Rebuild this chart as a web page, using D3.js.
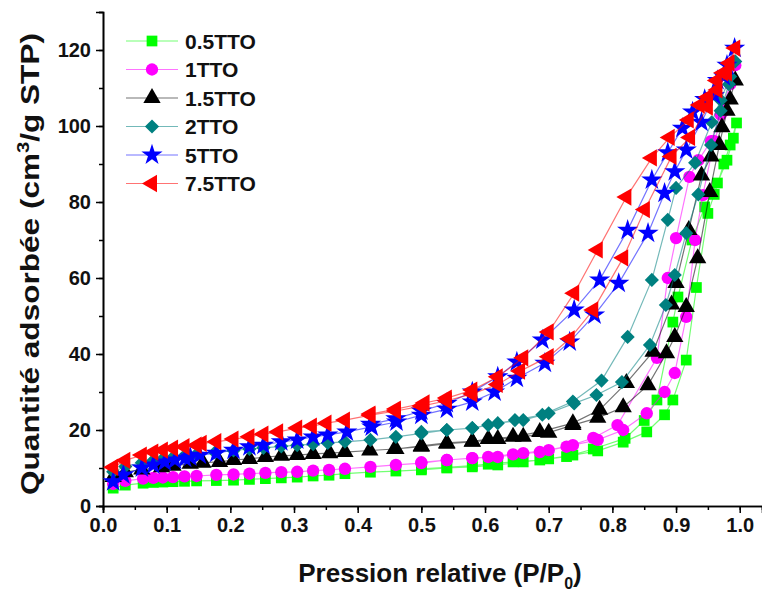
<!DOCTYPE html>
<html><head><meta charset="utf-8">
<script src="https://cdn.jsdelivr.net/npm/d3@7"></script>
<style>body{margin:0;background:#fff;} text{font-family:"Liberation Sans",Arial,sans-serif;font-weight:bold;}</style>
</head><body>
<svg id="c" width="762" height="592"></svg>
<script>
const seriesNames = ["0.5TTO","1TTO","1.5TTO","2TTO","5TTO","7.5TTO"];
const seriesColors = ["#00ff00","#ff00ff","#000000","#008080","#0000ff","#ff0000"];
const seriesSymbols = ["square","circle","triangle","diamond","star","triangleLeft"];
const xTicks = [0.0,0.1,0.2,0.3,0.4,0.5,0.6,0.7,0.8,0.9,1.0];
const yTicks = [0,20,40,60,80,100,120];

// 0.5TTO : [P/P0, V]
const tto05 = [[0.016,4.7],[0.035,5.5],[0.063,6.0],[0.079,6.2],[0.094,6.3],[0.11,6.4],[0.128,6.5],[0.147,6.6],[0.178,6.7],[0.205,6.8],[0.23,7.0],[0.255,7.2],[0.28,7.4],[0.305,7.6],[0.33,7.9],[0.355,8.1],[0.38,8.5],[0.42,8.9],[0.46,9.2],[0.50,9.5],[0.54,10],[0.58,10.3],[0.62,10.8],[0.66,11.6],[0.70,12.4],[0.738,13.4],[0.777,14.5],[0.817,16.8],[0.854,19.5],[0.882,24],[0.895,27.9],[0.916,38.4],[0.932,57.5],[0.95,77],[0.96,82],[0.975,90],[0.985,95],[0.995,100.8],
  [0.99,96.8],[0.98,91],[0.965,85],[0.945,78.7],[0.925,70],[0.903,55],[0.895,48.4],[0.87,27.9],[0.85,22.5],[0.82,17.8],[0.77,15],[0.728,13],[0.686,12.1],[0.644,11.6],[0.605,11],[0.58,10.6],[0.54,10.2],[0.50,9.8]];
// 1TTO
const tto1 = [[0.016,5.8],[0.035,6.6],[0.063,7.2],[0.079,7.4],[0.094,7.5],[0.11,7.6],[0.128,7.8],[0.147,7.9],[0.178,8.2],[0.205,8.3],[0.23,8.5],[0.255,8.7],[0.28,8.9],[0.305,9.0],[0.33,9.3],[0.355,9.5],[0.38,9.8],[0.42,10.3],[0.46,10.8],[0.50,11.3],[0.54,12.1],[0.58,12.6],[0.62,12.9],[0.66,13.9],[0.70,14.7],[0.738,16],[0.777,17.4],[0.817,20],[0.854,24.4],[0.882,30],[0.898,35],[0.916,49.8],[0.93,70],[0.942,81.8],[0.96,96],[0.975,104],[0.993,116],
  [0.985,111],[0.97,103],[0.955,96],[0.935,91],[0.921,86.6],[0.90,70.5],[0.887,60],[0.87,39],[0.808,21.3],[0.77,17.9],[0.728,15.6],[0.686,14.2],[0.644,13.6],[0.605,12.9],[0.58,12.6],[0.54,12.1],[0.50,11.5]];
// 1.5TTO
const tto15 = [[0.016,7.6],[0.035,8.9],[0.061,9.6],[0.092,10.2],[0.11,10.6],[0.137,11.1],[0.157,11.4],[0.183,11.6],[0.205,12.1],[0.23,12.4],[0.255,12.9],[0.28,13.2],[0.305,13.4],[0.33,13.7],[0.356,13.9],[0.38,14.2],[0.419,14.6],[0.458,15.0],[0.50,15.6],[0.54,16.4],[0.58,16.9],[0.62,17.6],[0.66,18.2],[0.70,19.3],[0.738,21.3],[0.777,23.2],[0.817,26],[0.856,31.8],[0.885,40.2],[0.898,44.5],[0.916,52.4],[0.934,65.2],[0.953,82.6],[0.968,95],[0.98,104],[0.993,112],
  [0.985,107],[0.972,99.7],[0.955,92],[0.94,87],[0.92,72.6],[0.90,58.7],[0.893,53],[0.864,40.6],[0.822,32.4],[0.78,25.3],[0.738,21.8],[0.686,19.5],[0.644,18.2],[0.605,17.6],[0.58,17],[0.54,16.6],[0.50,15.8],[0.46,15]];
// 2TTO
const tto2 = [[0.016,9.0],[0.035,10.4],[0.061,11.4],[0.079,12],[0.094,12.4],[0.11,12.8],[0.128,13.2],[0.147,13.6],[0.176,14.1],[0.205,14.6],[0.23,15],[0.252,15.3],[0.28,15.7],[0.305,16],[0.33,16.3],[0.353,16.6],[0.38,16.9],[0.42,17.4],[0.46,18.2],[0.50,19.1],[0.54,20],[0.58,20.5],[0.62,21.8],[0.66,22.6],[0.70,24.4],[0.74,27],[0.775,29.2],[0.815,32.6],[0.859,42.4],[0.884,52.9],[0.898,60.8],[0.916,71.8],[0.935,82],[0.955,95],[0.97,104],[0.983,111],[0.993,117],
  [0.985,113],[0.97,106.8],[0.956,101],[0.93,90.3],[0.90,83.7],[0.887,75.3],[0.862,59.5],[0.824,44.5],[0.783,33],[0.738,27.5],[0.69,24],[0.647,22.6],[0.605,21.3],[0.58,20.5],[0.54,20],[0.50,19.5]];
// 5TTO
const tto5 = [[0.016,6.4],[0.032,8.2],[0.061,10],[0.079,10.8],[0.097,11.6],[0.113,12.1],[0.129,12.6],[0.137,12.9],[0.152,13.4],[0.178,13.9],[0.205,14.7],[0.23,15.6],[0.252,16],[0.28,16.9],[0.305,17.4],[0.33,18.2],[0.353,18.7],[0.383,19.5],[0.422,20.8],[0.461,22.1],[0.50,23.9],[0.54,25.5],[0.58,27.4],[0.615,30],[0.65,33.6],[0.694,37.6],[0.733,43.2],[0.772,50.3],[0.81,58.6],[0.856,71.8],[0.882,82.3],[0.898,88],[0.916,93.7],[0.94,101],[0.96,108],[0.975,113],[0.992,120.5],
  [0.98,116],[0.965,112],[0.945,107],[0.926,103.7],[0.91,99.4],[0.887,93],[0.862,85.8],[0.824,72.6],[0.78,59.5],[0.74,51.6],[0.69,43.7],[0.65,37.9],[0.62,34],[0.58,30],[0.54,27],[0.50,25],[0.46,23],[0.42,21.5]];
// 7.5TTO
const tto75 = [[0.016,10.2],[0.035,12.0],[0.061,13.4],[0.079,14.2],[0.094,14.7],[0.11,15.2],[0.128,15.6],[0.147,16.0],[0.155,16.5],[0.178,16.9],[0.205,17.6],[0.23,18.2],[0.252,18.9],[0.275,19.5],[0.305,20.5],[0.328,21.0],[0.351,21.8],[0.38,22.6],[0.42,23.9],[0.46,25.0],[0.50,26.3],[0.54,27.7],[0.58,29.5],[0.62,32.0],[0.655,35.5],[0.70,39.3],[0.733,44],[0.77,51.6],[0.817,65.3],[0.851,78],[0.893,92],[0.922,97],[0.95,105],[0.965,109.5],[0.98,114],[0.993,120.5],
  [0.984,116.6],[0.974,114],[0.964,112],[0.95,107.6],[0.937,105.5],[0.92,101.6],[0.89,97],[0.862,91.6],[0.822,81.3],[0.777,67.4],[0.74,56],[0.70,45.8],[0.66,39],[0.62,34],[0.58,30.5],[0.54,28.4],[0.505,27.1],[0.46,25.5],[0.42,24.2]];

const seriesData = [tto05, tto1, tto15, tto2, tto5, tto75];

const svg = d3.select("#c");
const x = d3.scaleLinear().domain([0, 1.035]).range([103, 762]);
const y = d3.scaleLinear().domain([0, 130]).range([506, 12]);

function symbolPath(kind){
  const sizes = {square:115, circle:120, triangle:130, diamond:100, star:140, triangleLeft:130};
  const types = {square:d3.symbolSquare, circle:d3.symbolCircle, triangle:d3.symbolTriangle, diamond:d3.symbolSquare, star:d3.symbolStar, triangleLeft:d3.symbolTriangle};
  return d3.symbol().type(types[kind]).size(sizes[kind])();
}
function symbolRot(kind){ return kind==="diamond"?45:(kind==="triangleLeft"?-90:0); }

const tickFont = {size:20};
// axes
const xMinor = d3.range(0, 1.051, 0.05);
const yMinor = d3.range(0, 131, 10);
svg.append("g").attr("transform","translate(0,506)")
  .call(d3.axisBottom(x).tickValues(xMinor).tickSize(4).tickFormat(""));
const gx2 = svg.append("g").attr("transform","translate(0,506)");
gx2.call(d3.axisBottom(x).tickValues(xTicks).tickSize(7).tickPadding(5).tickFormat(d3.format(".1f")));
gx2.selectAll("text").attr("font-size",tickFont.size).attr("fill","#111").attr("font-family","Liberation Sans, Arial, sans-serif").attr("font-weight","bold");

svg.append("g").attr("transform","translate(103,0)")
  .call(d3.axisLeft(y).tickValues(yMinor).tickSize(4).tickFormat(""));
const gy2 = svg.append("g").attr("transform","translate(103,0)");
gy2.call(d3.axisLeft(y).tickValues(yTicks).tickSize(7).tickPadding(5));
gy2.selectAll("text").attr("font-size",tickFont.size).attr("fill","#111").attr("font-family","Liberation Sans, Arial, sans-serif").attr("font-weight","bold");
svg.selectAll(".domain").attr("stroke-width",1.6);
svg.selectAll(".tick line").attr("stroke-width",1.5);

// series
const line = d3.line().x(d=>x(d[0])).y(d=>y(d[1]));
seriesData.forEach((data,i)=>{
  const g = svg.append("g");
  g.append("path").attr("d", line(data)).attr("fill","none").attr("stroke",seriesColors[i]).attr("stroke-opacity",0.55).attr("stroke-width",1.2);
  const p = symbolPath(seriesSymbols[i]);
  g.selectAll("path.m").data(data).enter().append("path").attr("class","m")
    .attr("d",p)
    .attr("transform",d=>`translate(${x(d[0])},${y(d[1])}) rotate(${symbolRot(seriesSymbols[i])})`)
    .attr("fill",seriesColors[i]);
});

// legend
const legY = d3.scaleLinear().domain([0,5]).range([41,183.5]);
seriesNames.forEach((n,i)=>{
  const yy = legY(i);
  svg.append("line").attr("x1",126).attr("x2",178).attr("y1",yy).attr("y2",yy)
    .attr("stroke",seriesColors[i]).attr("stroke-opacity",0.55).attr("stroke-width",1.2);
  svg.append("path").attr("d",symbolPath(seriesSymbols[i]))
    .attr("transform",`translate(152,${yy}) rotate(${symbolRot(seriesSymbols[i])})`).attr("fill",seriesColors[i]);
  svg.append("text").attr("x",185).attr("y",yy+7.5).attr("font-size",21).attr("fill","#111").text(n);
});

// axis titles
const xt = svg.append("text").attr("x",440).attr("y",582).attr("text-anchor","middle").attr("font-size",26).attr("fill","#111");
xt.append("tspan").text("Pression relative (P/P");
xt.append("tspan").attr("font-size",16).attr("dy",7).text("0");
xt.append("tspan").attr("dy",-7).text(")");
const ytg = svg.append("g");
const yt = ytg.append("text").attr("x",0).attr("y",0).attr("text-anchor","middle").attr("font-size",25).attr("fill","#111");
yt.append("tspan").text("Quantité adsorbée (cm");
yt.append("tspan").attr("font-size",16).attr("dy",-10).text("3");
yt.append("tspan").attr("dy",10).text("/g STP)");
const bw = yt.node().getBBox().width;
const targetLen = 462;
ytg.attr("transform",`translate(39,264) rotate(-90) scale(${targetLen/bw},1)`);
</script>
</body></html>
